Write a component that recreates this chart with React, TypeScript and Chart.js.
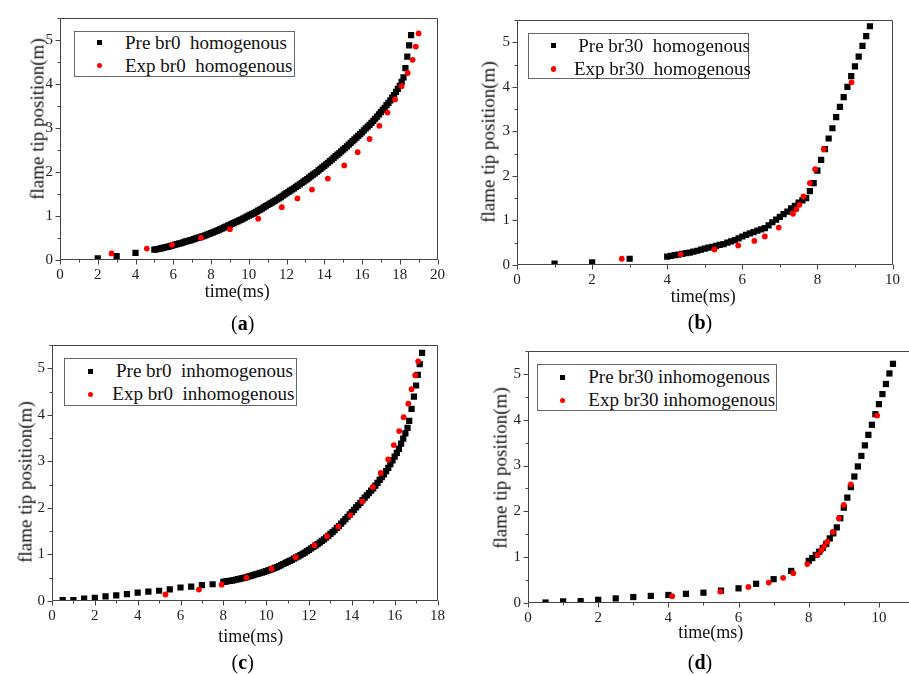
import React, { useEffect, useRef } from 'react';
import { Chart, registerables } from 'chart.js';
Chart.register(...registerables);

type P = [number, number];

// ---------- data (time ms, flame tip position m) ----------
const preA: P[] = [
  [2.0, 0.04], [3.0, 0.09], [4.0, 0.16],
  [5.0, 0.235], [5.1, 0.242], [5.2, 0.25], [5.3, 0.26], [5.4, 0.27], [5.5, 0.28], [5.6, 0.29], [5.7, 0.3],
  [5.8, 0.31], [5.9, 0.322], [6.0, 0.335], [6.1, 0.347], [6.2, 0.36], [6.3, 0.372], [6.4, 0.385], [6.5, 0.397],
  [6.6, 0.41], [6.7, 0.422], [6.8, 0.435], [6.9, 0.447], [7.0, 0.46], [7.1, 0.475], [7.2, 0.49], [7.3, 0.502],
  [7.4, 0.515], [7.5, 0.53], [7.6, 0.545], [7.7, 0.56], [7.8, 0.575], [7.9, 0.592], [8.0, 0.61], [8.1, 0.627],
  [8.2, 0.645], [8.3, 0.662], [8.4, 0.68], [8.5, 0.7], [8.6, 0.72], [8.7, 0.74], [8.8, 0.76], [8.9, 0.78],
  [9.0, 0.8], [9.1, 0.82], [9.2, 0.84], [9.3, 0.86], [9.4, 0.88], [9.5, 0.9], [9.6, 0.92], [9.7, 0.942],
  [9.8, 0.965], [9.9, 0.987], [10.0, 1.01], [10.1, 1.03], [10.2, 1.05], [10.3, 1.072], [10.4, 1.095],
  [10.5, 1.12], [10.6, 1.145], [10.7, 1.17], [10.8, 1.195], [10.9, 1.222], [11.0, 1.25], [11.1, 1.275],
  [11.2, 1.3], [11.3, 1.325], [11.4, 1.35], [11.5, 1.375], [11.6, 1.4], [11.7, 1.43], [11.8, 1.46],
  [11.9, 1.49], [12.0, 1.52], [12.1, 1.547], [12.2, 1.575], [12.3, 1.602], [12.4, 1.63], [12.5, 1.66],
  [12.6, 1.69], [12.7, 1.72], [12.8, 1.75], [12.9, 1.78], [13.0, 1.81], [13.1, 1.84], [13.2, 1.87],
  [13.3, 1.905], [13.4, 1.94], [13.5, 1.97], [13.6, 2.0], [13.7, 2.035], [13.8, 2.07], [13.9, 2.105],
  [14.0, 2.14], [14.1, 2.175], [14.2, 2.21], [14.3, 2.245], [14.4, 2.28], [14.5, 2.32], [14.6, 2.36],
  [14.7, 2.395], [14.8, 2.43], [14.9, 2.47], [15.0, 2.51], [15.1, 2.545], [15.2, 2.58], [15.3, 2.62],
  [15.4, 2.66], [15.5, 2.7], [15.6, 2.74], [15.7, 2.78], [15.8, 2.82], [15.9, 2.86], [16.0, 2.9],
  [16.1, 2.945], [16.2, 2.99], [16.3, 3.03], [16.4, 3.07], [16.5, 3.115], [16.6, 3.16], [16.7, 3.21],
  [16.8, 3.26], [16.9, 3.31], [17.0, 3.36], [17.1, 3.41], [17.2, 3.46], [17.3, 3.52], [17.4, 3.57],
  [17.5, 3.63], [17.6, 3.69], [17.7, 3.75], [17.8, 3.82], [17.9, 3.89], [18.0, 3.96], [18.1, 4.05],
  [18.2, 4.15], [18.3, 4.36], [18.4, 4.62], [18.5, 4.88], [18.6, 5.11],
];
const expA: P[] = [
  [2.73, 0.15], [4.6, 0.26], [5.94, 0.345], [7.47, 0.505], [9.0, 0.7], [10.5, 0.94], [11.75, 1.2], [12.58, 1.4],
  [13.35, 1.6], [14.19, 1.85], [15.06, 2.15], [15.77, 2.45], [16.4, 2.75], [16.92, 3.05], [17.35, 3.35],
  [17.75, 3.65], [18.1, 3.95], [18.42, 4.25], [18.68, 4.55], [18.85, 4.85], [19.0, 5.15],
];

const preB: P[] = [
  [1.0, 0.03], [2.0, 0.06], [3.0, 0.14],
  [4.0, 0.19], [4.1, 0.205], [4.2, 0.22], [4.3, 0.235], [4.4, 0.25], [4.5, 0.265], [4.6, 0.28], [4.7, 0.3],
  [4.8, 0.32], [4.9, 0.345], [5.0, 0.37], [5.1, 0.39], [5.2, 0.41], [5.3, 0.43], [5.4, 0.45], [5.5, 0.47],
  [5.6, 0.5], [5.7, 0.53], [5.8, 0.56], [5.9, 0.6], [6.0, 0.64], [6.1, 0.675], [6.2, 0.71], [6.3, 0.74],
  [6.4, 0.77], [6.5, 0.8], [6.6, 0.83], [6.7, 0.89], [6.8, 0.96], [6.9, 1.02], [7.0, 1.08], [7.1, 1.14],
  [7.2, 1.2], [7.3, 1.27], [7.4, 1.33], [7.5, 1.4], [7.6, 1.45], [7.7, 1.5], [7.8, 1.66], [7.9, 1.84],
  [8.0, 2.12], [8.1, 2.36], [8.2, 2.6], [8.3, 2.84], [8.4, 3.07], [8.5, 3.32], [8.6, 3.55], [8.7, 3.77],
  [8.8, 4.0], [8.9, 4.24], [9.0, 4.46], [9.1, 4.68], [9.2, 4.92], [9.3, 5.14], [9.4, 5.36],
];
const expB: P[] = [
  [2.79, 0.14], [4.36, 0.24], [5.26, 0.35], [5.89, 0.44], [6.32, 0.54], [6.6, 0.64], [6.97, 0.84], [7.35, 1.15],
  [7.44, 1.25], [7.52, 1.35], [7.63, 1.54], [7.8, 1.84], [7.94, 2.15], [8.17, 2.6], [8.91, 4.1],
];

const preC: P[] = [
  [0.5, 0.02], [1.0, 0.02], [1.5, 0.05], [2.0, 0.07], [2.5, 0.1], [3.0, 0.12], [3.5, 0.15], [4.0, 0.18],
  [4.5, 0.2], [5.0, 0.22], [5.5, 0.25], [6.0, 0.29], [6.5, 0.31], [7.0, 0.34], [7.5, 0.36],
  [8.0, 0.41], [8.1, 0.417], [8.2, 0.425], [8.3, 0.432], [8.4, 0.44], [8.5, 0.45], [8.6, 0.46], [8.7, 0.47],
  [8.8, 0.48], [8.9, 0.49], [9.0, 0.5], [9.1, 0.515], [9.2, 0.53], [9.3, 0.542], [9.4, 0.555], [9.5, 0.57],
  [9.6, 0.585], [9.7, 0.597], [9.8, 0.61], [9.9, 0.625], [10.0, 0.64], [10.1, 0.657], [10.2, 0.675],
  [10.3, 0.692], [10.4, 0.71], [10.5, 0.73], [10.6, 0.75], [10.7, 0.772], [10.8, 0.795], [10.9, 0.817],
  [11.0, 0.84], [11.1, 0.862], [11.2, 0.885], [11.3, 0.91], [11.4, 0.935], [11.5, 0.96], [11.6, 0.985],
  [11.7, 1.012], [11.8, 1.04], [11.9, 1.07], [12.0, 1.1], [12.1, 1.13], [12.2, 1.16], [12.3, 1.19],
  [12.4, 1.22], [12.5, 1.255], [12.6, 1.29], [12.7, 1.325], [12.8, 1.36], [12.9, 1.4], [13.0, 1.44],
  [13.1, 1.48], [13.2, 1.52], [13.3, 1.57], [13.4, 1.61], [13.5, 1.66], [13.6, 1.71], [13.7, 1.76],
  [13.8, 1.81], [13.9, 1.86], [14.0, 1.91], [14.1, 1.96], [14.2, 2.01], [14.3, 2.06], [14.4, 2.11],
  [14.5, 2.17], [14.6, 2.22], [14.7, 2.27], [14.8, 2.32], [14.9, 2.37], [15.0, 2.42], [15.1, 2.48],
  [15.2, 2.54], [15.3, 2.6], [15.4, 2.66], [15.5, 2.72], [15.6, 2.79], [15.7, 2.86], [15.8, 2.94],
  [15.9, 3.02], [16.0, 3.1], [16.1, 3.18], [16.2, 3.27], [16.3, 3.38], [16.4, 3.49], [16.5, 3.6],
  [16.6, 3.72], [16.68, 3.87], [16.79, 4.13], [16.9, 4.39], [17.0, 4.63], [17.08, 4.86], [17.17, 5.09],
  [17.28, 5.33],
];
const expC: P[] = [
  [5.3, 0.14], [6.86, 0.245], [7.92, 0.35], [9.08, 0.5], [10.26, 0.69], [11.38, 0.94], [12.25, 1.2],
  [12.84, 1.39], [13.37, 1.6], [13.94, 1.84], [14.49, 2.14], [14.98, 2.45], [15.35, 2.75], [15.7, 3.04],
  [15.96, 3.35], [16.21, 3.65], [16.42, 3.95], [16.64, 4.24], [16.79, 4.55], [16.96, 4.85], [17.1, 5.15],
];

const preD: P[] = [
  [0.5, 0.01], [1.0, 0.035], [1.5, 0.04], [2.0, 0.07], [2.5, 0.1], [3.0, 0.13], [3.5, 0.155], [4.0, 0.175],
  [4.5, 0.2], [5.0, 0.225], [5.5, 0.27], [6.0, 0.32], [6.5, 0.42], [7.0, 0.52], [7.5, 0.7], [8.0, 0.92],
  [8.1, 0.98], [8.2, 1.05], [8.3, 1.12], [8.4, 1.2], [8.5, 1.29], [8.6, 1.41], [8.7, 1.52], [8.8, 1.65],
  [8.9, 1.85], [9.0, 2.08], [9.1, 2.3], [9.2, 2.53], [9.3, 2.76], [9.4, 2.98], [9.5, 3.21], [9.6, 3.44],
  [9.7, 3.67], [9.8, 3.89], [9.9, 4.12], [10.0, 4.34], [10.1, 4.56], [10.2, 4.78], [10.3, 5.01], [10.4, 5.22],
];
const expD: P[] = [
  [4.11, 0.15], [5.48, 0.25], [6.28, 0.35], [6.86, 0.445], [7.27, 0.55], [7.56, 0.65], [7.96, 0.85],
  [8.25, 1.05], [8.36, 1.15], [8.44, 1.24], [8.53, 1.34], [8.69, 1.55], [8.86, 1.85], [9.0, 2.14],
  [9.2, 2.59], [9.95, 4.09],
];

const xMaxes = [20, 10, 18, 11];
const yTicks = [0, 1, 2, 3, 4, 5];
const legendPre = ['Pre br0  homogenous', 'Pre br30  homogenous', 'Pre br0  inhomogenous', 'Pre br30 inhomogenous'];
const legendExp = ['Exp br0  homogenous', 'Exp br30  homogenous', 'Exp br0  inhomogenous', 'Exp br30 inhomogenous'];
const panelLabels = ['a', 'b', 'c', 'd'];
const xTitle = 'time(ms)';
const yTitle = 'flame tip position(m)';

// ---------- layout ----------
const FONT = '"Liberation Serif", "Times New Roman", serif';
const WY = 40, PT = 8, PR = 8, HX = 30;

type Box = { l: number; t: number; r: number; b: number };
const plotBoxes: Box[] = [
  { l: 60, t: 10, r: 443, b: 260 },
  { l: 517, t: 12, r: 898, b: 265 },
  { l: 52, t: 337, r: 443, b: 601 },
  { l: 528, t: 343, r: 914, b: 603 },
];
const legendBoxes: Box[] = [
  { l: 74, t: 31, r: 295, b: 77 },
  { l: 528, t: 33, r: 749, b: 79 },
  { l: 64, t: 358, r: 297, b: 406 },
  { l: 537, t: 364, r: 777, b: 411 },
];
// [markerX, markerY1, markerY2, textX1, textX2, baseline1, baseline2]
const legendRows = [
  [99.3, 42.7, 65.7, 125, 125, 49.3, 72.3],
  [553.3, 45.7, 69, 578.3, 574, 51.7, 75],
  [90.7, 371, 394.3, 116, 112.3, 376.7, 400],
  [562.7, 377.3, 400.7, 588.3, 588.3, 382.7, 406],
];
const xTitlePos = [[237.3, 297.5], [703.3, 301.7], [250.7, 641.7], [710.7, 638.3]];
const yTitlePos = [[36.7, 119], [488.3, 141.7], [25, 481.7], [500, 468.3]];
const labelPos = [[242.7, 322.7], [700, 321.7], [242.7, 661.7], [700, 661.7]];

const frameTicks = {
  id: 'frameTicks',
  afterDraw(chart: any) {
    const { ctx, chartArea } = chart;
    const xs = chart.scales.x, ys = chart.scales.y;
    ctx.save();
    ctx.strokeStyle = '#444';
    ctx.lineWidth = 1;
    const L = Math.round(chartArea.left) + 0.5, R = Math.round(chartArea.right) - 0.5;
    const T = Math.round(chartArea.top) + 0.5, B = Math.round(chartArea.bottom) - 0.5;
    ctx.beginPath();
    ctx.rect(L, T, R - L, B - T);
    ctx.stroke();
    ctx.beginPath();
    for (let v = 0; v <= xs.max + 1e-9; v += 1) {
      const px = Math.round(xs.getPixelForValue(v)) + 0.5;
      const len = v % 2 === 0 ? 5 : 3;
      ctx.moveTo(px, B);
      ctx.lineTo(px, B + len);
    }
    for (let v = 0; v <= ys.max + 1e-9; v += 0.5) {
      const py = Math.round(ys.getPixelForValue(v)) + 0.5;
      const len = Number.isInteger(v) ? 5 : 3;
      ctx.moveTo(L, py);
      ctx.lineTo(L - len, py);
    }
    ctx.stroke();
    ctx.restore();
  },
};

function Panel({ idx }: { idx: number }) {
  const ref = useRef<HTMLCanvasElement>(null);
  const box = plotBoxes[idx];
  const W = box.r - box.l + WY + PR;
  const H = box.b - box.t + PT + HX;
  const pre = [preA, preB, preC, preD][idx];
  const exp = [expA, expB, expC, expD][idx];
  const xMax = xMaxes[idx];

  useEffect(() => {
    const xTicks: number[] = [];
    for (let v = 0; v <= xMax; v += 2) xTicks.push(v);
    const tickFont = { family: FONT, size: 15 };
    const chart = new Chart(ref.current as HTMLCanvasElement, {
      type: 'scatter',
      data: {
        datasets: [
          {
            label: 'Exp',
            data: exp.map(([x, y]) => ({ x, y })),
            pointStyle: 'circle',
            pointRadius: 2.9,
            pointHoverRadius: 2.9,
            backgroundColor: '#ff0000',
            borderWidth: 0,
            order: 0,
          },
          {
            label: 'Pre',
            data: pre.map(([x, y]) => ({ x, y })),
            pointStyle: 'rect',
            pointRadius: 4.4,
            pointHoverRadius: 4.4,
            backgroundColor: '#000000',
            borderWidth: 0,
            order: 1,
          },
        ],
      },
      options: {
        animation: false,
        responsive: false,
        devicePixelRatio: 1,
        events: [],
        layout: { padding: { left: 0, top: PT, right: PR, bottom: 0 } },
        plugins: { legend: { display: false }, tooltip: { enabled: false } },
        scales: {
          x: {
            type: 'linear',
            min: 0,
            max: xMax,
            afterBuildTicks: (s: any) => { s.ticks = xTicks.map((value) => ({ value })); },
            afterFit: (s: any) => { s.height = HX; },
            ticks: { font: tickFont, color: '#222', padding: 6, maxRotation: 0, autoSkip: false },
            grid: { display: false, drawTicks: false },
            border: { display: false },
          },
          y: {
            type: 'linear',
            min: 0,
            max: 5.5,
            afterBuildTicks: (s: any) => { s.ticks = yTicks.map((value) => ({ value })); },
            afterFit: (s: any) => { s.width = WY; },
            ticks: { font: tickFont, color: '#222', padding: 7, autoSkip: false },
            grid: { display: false, drawTicks: false },
            border: { display: false },
          },
        },
      },
      plugins: [frameTicks],
    } as any);
    return () => chart.destroy();
  }, []);

  return (
    <canvas
      ref={ref}
      width={W}
      height={H}
      style={{ position: 'absolute', left: box.l - WY, top: box.t - PT, width: W, height: H }}
    />
  );
}

function Legend({ idx }: { idx: number }) {
  const b = legendBoxes[idx];
  const [mx, my1, my2, tx1, tx2, bl1, bl2] = legendRows[idx];
  const fs = 19;
  const txt = (left: number, baseline: number, s: string) => (
    <div
      style={{
        position: 'absolute', left, top: baseline - 0.8375 * fs, fontSize: fs, lineHeight: `${fs}px`,
        fontFamily: FONT, whiteSpace: 'pre', color: '#111',
      }}
    >
      {s}
    </div>
  );
  return (
    <>
      <div
        style={{
          position: 'absolute', left: b.l, top: b.t, width: b.r - b.l, height: b.b - b.t,
          border: '1px solid #666', boxSizing: 'border-box', background: '#fff',
        }}
      />
      <div style={{ position: 'absolute', left: mx - 2.5, top: my1 - 2.5, width: 5, height: 5, background: '#000' }} />
      <div
        style={{ position: 'absolute', left: mx - 2.6, top: my2 - 2.6, width: 5.2, height: 5.2, background: '#ff0000', borderRadius: '50%' }}
      />
      {txt(tx1, bl1, legendPre[idx])}
      {txt(tx2, bl2, legendExp[idx])}
    </>
  );
}

function Titles({ idx }: { idx: number }) {
  const [xx, xb] = xTitlePos[idx];
  const [yx, yy] = yTitlePos[idx];
  const [lx, ly] = labelPos[idx];
  const fx = 18, fy = 19;
  return (
    <>
      <div
        style={{
          position: 'absolute', left: xx - 100, width: 200, textAlign: 'center', top: xb - 0.8375 * fx,
          fontSize: fx, lineHeight: `${fx}px`, fontFamily: FONT, color: '#111',
        }}
      >
        {xTitle}
      </div>
      <div
        style={{
          position: 'absolute', left: yx, top: yy, fontSize: fy, lineHeight: `${fy}px`, fontFamily: FONT,
          color: '#111', whiteSpace: 'nowrap', transform: 'translate(-50%, -50%) rotate(-90deg)',
        }}
      >
        {yTitle}
      </div>
      <div
        style={{
          position: 'absolute', left: lx, top: ly, fontSize: 20, lineHeight: '20px', fontFamily: FONT,
          color: '#000', whiteSpace: 'nowrap', transform: 'translate(-50%, -50%)',
        }}
      >
        (<b>{panelLabels[idx]}</b>)
      </div>
    </>
  );
}

export default function App() {
  return (
    <div
      style={{
        position: 'fixed', left: 0, top: 0, width: 909, height: 675, overflow: 'hidden', background: '#fff',
      }}
    >
      {[0, 1, 2, 3].map((i) => (
        <React.Fragment key={i}>
          <Panel idx={i} />
          <Legend idx={i} />
          <Titles idx={i} />
        </React.Fragment>
      ))}
    </div>
  );
}
